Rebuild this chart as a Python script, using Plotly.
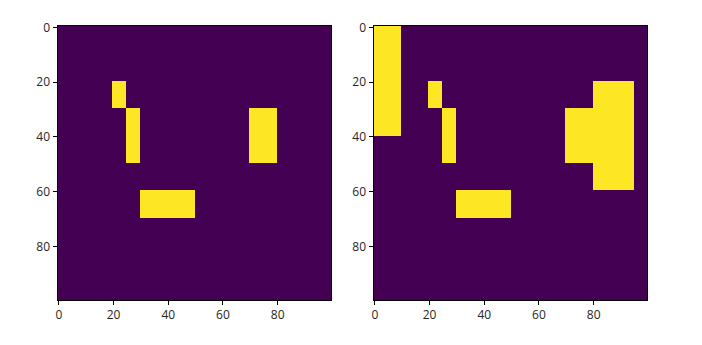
import numpy as np
import plotly.graph_objects as go

N = 100
# Yellow blocks as (row_start, row_end, col_start, col_end), inclusive
left_blocks = [
    (20, 29, 20, 24),
    (30, 49, 25, 29),
    (30, 49, 70, 79),
    (60, 69, 30, 49),
]
right_blocks = [
    (0, 39, 0, 9),
    (20, 29, 20, 24),
    (30, 49, 25, 29),
    (30, 49, 70, 79),
    (20, 59, 80, 94),
    (60, 69, 30, 49),
]
tick_vals = [0, 20, 40, 60, 80]
tick_text = ["0", "20", "40", "60", "80"]


def build(blocks):
    z = np.zeros((N, N))
    for r0, r1, c0, c1 in blocks:
        z[r0:r1 + 1, c0:c1 + 1] = 1
    return z


cscale = [[0, "#440154"], [1, "#fde725"]]
fig = go.Figure()
for i, blocks in enumerate([left_blocks, right_blocks]):
    z = build(blocks)
    fig.add_trace(go.Heatmap(
        z=z, x=list(range(N)), y=list(range(N)),
        colorscale=cscale, zmin=0, zmax=1, showscale=False,
        zsmooth=False, hoverinfo="skip",
        xaxis="x" if i == 0 else "x2", yaxis="y" if i == 0 else "y2",
    ))

W, H = 702, 345
axfont = dict(family="Open Sans", size=12, color="#262626")
common = dict(showline=True, linecolor="black", linewidth=1, mirror=True,
              ticks="outside", ticklen=4, tickcolor="black", tickwidth=1,
              showgrid=False, zeroline=False, tickvals=tick_vals, ticktext=tick_text,
              tickfont=axfont, automargin=False)
ydom = [1 - 300 / H, 1 - 26 / H]
fig.update_layout(
    template="none",
    width=W, height=H, margin=dict(l=0, r=0, t=0, b=0, pad=0),
    paper_bgcolor="white", plot_bgcolor="white", showlegend=False,
    xaxis=dict(domain=[57.5 / W, 331 / W], range=[-0.5, 99.5], anchor="y", **common),
    yaxis=dict(domain=ydom, range=[99.5, -0.5], anchor="x", **common),
    xaxis2=dict(domain=[373.5 / W, 647 / W], range=[-0.5, 99.5], anchor="y2", **common),
    yaxis2=dict(domain=ydom, range=[99.5, -0.5], anchor="x2", **common),
)
fig.write_html("out.html")
